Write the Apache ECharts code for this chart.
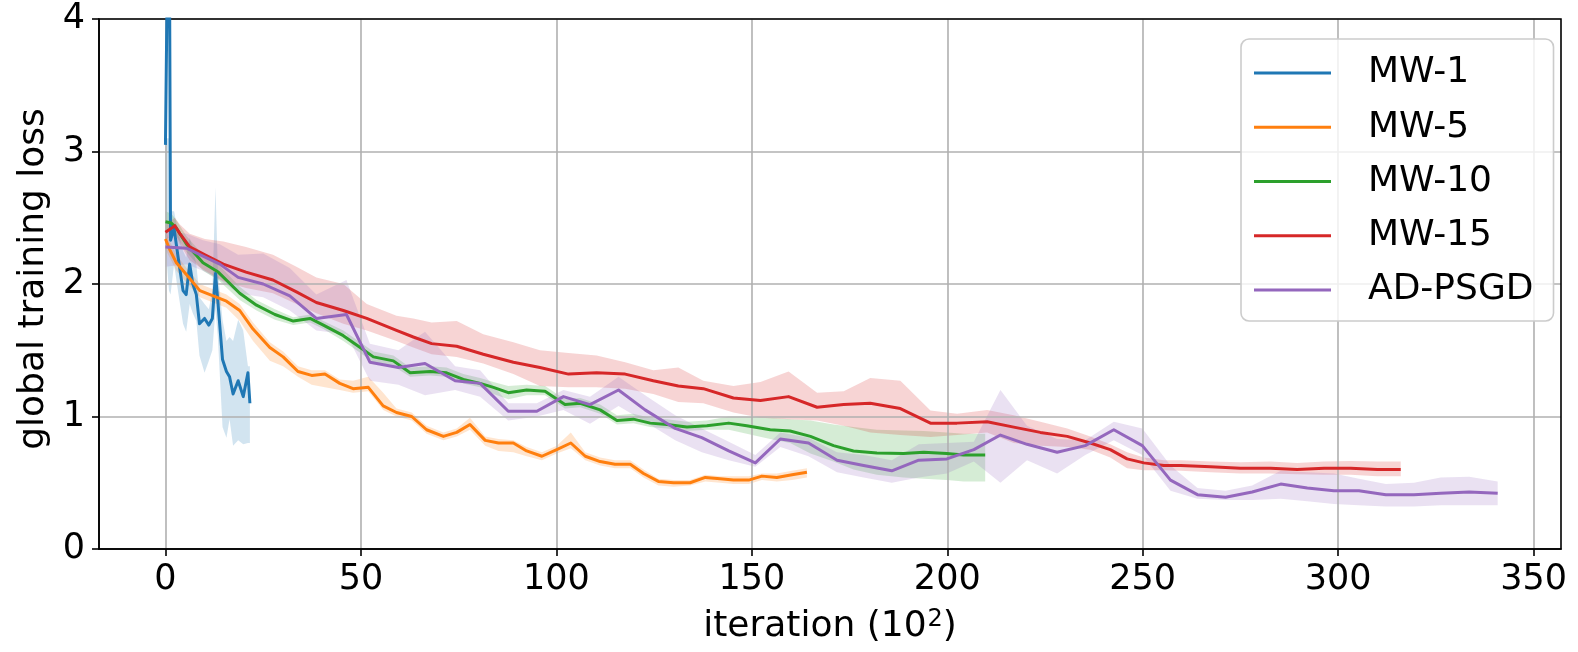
<!DOCTYPE html>
<html>
<head>
<meta charset="utf-8">
<title>global training loss</title>
<script src="https://cdn.jsdelivr.net/npm/echarts@6/dist/echarts.min.js"></script>
<style>
  html, body { margin: 0; padding: 0; background: #fff; }
  #chart { width: 1578px; height: 652px; }
</style>
</head>
<body>
<div id="chart"></div>
<script>
// values (x in 10^2 iterations)
const blueX  = [0, 0.9, 1.3, 2.2, 3.2, 4.5, 5.3, 6.2, 7.0, 7.9, 8.7, 10.0, 11.1, 12.0, 12.8, 13.4, 14.6, 15.6, 16.4, 17.3, 18.6, 19.9, 21.1, 21.6];
const blueY  = [3.05, 5.5, 2.33, 2.42, 2.21, 1.95, 1.92, 2.15, 2.00, 1.92, 1.70, 1.74, 1.69, 1.74, 2.08, 1.87, 1.43, 1.34, 1.30, 1.17, 1.27, 1.15, 1.33, 1.10];
const blueLo = [2.30, 1.95, 1.92, 2.15, 1.95, 1.70, 1.64, 1.85, 1.78, 1.72, 1.46, 1.33, 1.42, 1.50, 1.81, 1.60, 0.92, 0.84, 0.98, 0.78, 0.82, 0.79, 0.80, 0.80];
const blueHi = [3.10, 3.10, 2.55, 2.55, 2.40, 2.25, 2.20, 2.35, 2.27, 2.15, 1.90, 1.85, 1.81, 1.95, 2.73, 2.10, 1.73, 1.57, 1.60, 1.57, 1.73, 1.65, 1.38, 1.38];

const orangeX  = [0, 1.1, 2.8, 5.4, 8.8, 12.2, 15.6, 19.0, 22.4, 26.7, 30.1, 33.9, 37.4, 40.8, 44.6, 48.0, 51.9, 55.7, 59.1, 63.0, 66.8, 71.1, 74.5, 77.9, 81.8, 85.2, 89.0, 92.4, 96.3, 100.1, 103.7, 107.4, 111.2, 115.0, 118.9, 122.3, 126.1, 130.0, 134.2, 138.1, 141.9, 145.3, 149.2, 152.6, 156.4, 160.3, 164.1];
const orangeY  = [2.34, 2.26, 2.16, 2.07, 1.95, 1.91, 1.87, 1.80, 1.66, 1.52, 1.45, 1.34, 1.31, 1.32, 1.25, 1.21, 1.22, 1.08, 1.03, 1.00, 0.90, 0.85, 0.88, 0.94, 0.82, 0.80, 0.80, 0.74, 0.70, 0.75, 0.80, 0.70, 0.66, 0.64, 0.64, 0.57, 0.51, 0.50, 0.50, 0.54, 0.53, 0.52, 0.52, 0.55, 0.54, 0.56, 0.58];
const orangeLo = [2.26, 2.20, 2.10, 2.01, 1.90, 1.86, 1.82, 1.72, 1.57, 1.42, 1.38, 1.30, 1.24, 1.22, 1.20, 1.18, 1.19, 1.05, 1.00, 0.97, 0.87, 0.82, 0.85, 0.90, 0.78, 0.74, 0.73, 0.70, 0.67, 0.72, 0.76, 0.67, 0.63, 0.61, 0.61, 0.54, 0.48, 0.47, 0.48, 0.51, 0.50, 0.49, 0.49, 0.52, 0.51, 0.52, 0.54];
const orangeHi = [2.40, 2.32, 2.22, 2.12, 2.00, 1.96, 1.92, 1.85, 1.71, 1.56, 1.49, 1.38, 1.35, 1.35, 1.28, 1.27, 1.30, 1.18, 1.06, 1.03, 0.93, 0.88, 0.91, 0.99, 0.85, 0.83, 0.82, 0.77, 0.73, 0.78, 0.88, 0.73, 0.69, 0.67, 0.67, 0.60, 0.53, 0.52, 0.52, 0.56, 0.55, 0.55, 0.55, 0.57, 0.57, 0.59, 0.61];

const greenX  = [0, 1.5, 2.6, 5.4, 9.6, 13.5, 19.0, 23.3, 28.0, 32.7, 37.0, 40.4, 45.5, 48.9, 53.2, 58.3, 62.6, 67.7, 71.9, 76.2, 80.5, 83.9, 87.7, 92.4, 97.1, 102.2, 106.1, 111.2, 115.5, 119.7, 124.0, 128.3, 133.4, 138.5, 144.1, 148.7, 154.7, 159.8, 165.0, 170.9, 176.0, 182.0, 188.8, 194.0, 199.9, 204.2, 209.7];
const greenY  = [2.47, 2.46, 2.43, 2.30, 2.16, 2.09, 1.93, 1.84, 1.77, 1.72, 1.74, 1.69, 1.61, 1.54, 1.45, 1.42, 1.33, 1.34, 1.33, 1.28, 1.25, 1.22, 1.18, 1.20, 1.19, 1.09, 1.10, 1.05, 0.97, 0.98, 0.95, 0.94, 0.92, 0.93, 0.95, 0.93, 0.90, 0.89, 0.85, 0.78, 0.74, 0.725, 0.72, 0.73, 0.72, 0.71, 0.71];
const greenLo = [2.40, 2.40, 2.37, 2.24, 2.10, 2.03, 1.88, 1.80, 1.73, 1.69, 1.71, 1.66, 1.57, 1.50, 1.41, 1.38, 1.30, 1.31, 1.30, 1.25, 1.22, 1.17, 1.13, 1.16, 1.16, 1.06, 1.07, 1.02, 0.94, 0.95, 0.92, 0.91, 0.89, 0.90, 0.90, 0.87, 0.83, 0.80, 0.72, 0.66, 0.60, 0.56, 0.54, 0.53, 0.52, 0.51, 0.51];
const greenHi = [2.55, 2.53, 2.49, 2.36, 2.22, 2.15, 1.98, 1.88, 1.81, 1.75, 1.77, 1.72, 1.65, 1.58, 1.49, 1.46, 1.37, 1.38, 1.37, 1.32, 1.29, 1.26, 1.23, 1.24, 1.23, 1.13, 1.14, 1.09, 1.01, 1.02, 0.99, 0.98, 0.96, 0.97, 1.00, 1.00, 0.99, 0.98, 0.97, 0.94, 0.92, 0.90, 0.895, 0.89, 0.88, 0.87, 0.87];

const redX  = [0, 1.5, 2.4, 3.7, 6.2, 10.1, 14.8, 20.6, 27.5, 33.5, 38.6, 45.5, 51.5, 59.1, 63.4, 68.1, 74.5, 81.3, 89.0, 95.8, 103.1, 110.3, 117.6, 124.8, 131.2, 137.6, 145.3, 152.2, 159.4, 166.7, 173.5, 180.3, 188.0, 195.7, 202.5, 210.2, 217.0, 223.8, 230.7, 236.6, 241.7, 246.0, 250.3, 255.4, 259.7, 267.4, 275.0, 282.7, 289.5, 296.4, 303.2, 310.0, 316.0];
const redY  = [2.39, 2.42, 2.44, 2.38, 2.28, 2.22, 2.15, 2.09, 2.03, 1.94, 1.86, 1.80, 1.74, 1.65, 1.60, 1.55, 1.53, 1.47, 1.41, 1.37, 1.32, 1.33, 1.32, 1.27, 1.23, 1.21, 1.14, 1.12, 1.15, 1.07, 1.09, 1.10, 1.06, 0.95, 0.95, 0.96, 0.92, 0.88, 0.85, 0.80, 0.75, 0.68, 0.65, 0.63, 0.63, 0.62, 0.61, 0.61, 0.60, 0.61, 0.61, 0.60, 0.60];
const redLo = [2.33, 2.36, 2.38, 2.30, 2.18, 2.10, 2.02, 1.97, 1.93, 1.85, 1.78, 1.70, 1.65, 1.57, 1.52, 1.47, 1.45, 1.40, 1.32, 1.23, 1.22, 1.22, 1.21, 1.17, 1.11, 1.10, 1.03, 0.99, 0.98, 0.97, 0.93, 0.88, 0.86, 0.845, 0.86, 0.88, 0.80, 0.78, 0.77, 0.75, 0.69, 0.61, 0.595, 0.595, 0.59, 0.58, 0.57, 0.57, 0.565, 0.56, 0.56, 0.55, 0.55];
const redHi = [2.45, 2.48, 2.50, 2.45, 2.38, 2.34, 2.32, 2.28, 2.22, 2.13, 2.05, 2.00, 1.85, 1.76, 1.74, 1.71, 1.72, 1.62, 1.56, 1.50, 1.48, 1.46, 1.41, 1.35, 1.37, 1.27, 1.23, 1.26, 1.34, 1.18, 1.19, 1.29, 1.27, 1.045, 1.02, 1.05, 1.01, 0.96, 0.91, 0.85, 0.79, 0.73, 0.69, 0.67, 0.67, 0.66, 0.655, 0.66, 0.65, 0.66, 0.665, 0.66, 0.66];

const purpleX  = [0, 5.4, 9.6, 13.9, 18.6, 25.0, 31.8, 38.6, 46.3, 52.3, 59.6, 66.4, 74.1, 80.5, 87.7, 95.0, 101.8, 108.6, 115.9, 122.7, 130.4, 137.2, 144.1, 150.9, 157.3, 164.5, 171.8, 178.6, 185.8, 192.7, 199.9, 206.8, 213.6, 220.4, 228.1, 235.3, 242.6, 249.9, 257.1, 264.0, 271.2, 278.0, 285.3, 292.1, 298.9, 305.3, 312.2, 319.4, 326.2, 333.5, 340.8];
const purpleY  = [2.28, 2.27, 2.21, 2.15, 2.05, 2.00, 1.91, 1.74, 1.77, 1.41, 1.37, 1.40, 1.27, 1.25, 1.04, 1.04, 1.15, 1.09, 1.20, 1.05, 0.91, 0.84, 0.74, 0.65, 0.83, 0.80, 0.67, 0.63, 0.59, 0.67, 0.68, 0.75, 0.86, 0.79, 0.73, 0.78, 0.90, 0.78, 0.52, 0.41, 0.39, 0.43, 0.49, 0.46, 0.44, 0.44, 0.41, 0.41, 0.42, 0.43, 0.42];
const purpleLo = [2.13, 2.15, 2.10, 2.03, 1.93, 1.90, 1.80, 1.65, 1.62, 1.27, 1.24, 1.16, 1.20, 1.15, 0.97, 1.00, 1.05, 0.945, 1.08, 0.96, 0.82, 0.73, 0.67, 0.62, 0.77, 0.70, 0.58, 0.54, 0.50, 0.54, 0.57, 0.66, 0.50, 0.67, 0.57, 0.71, 0.82, 0.71, 0.44, 0.38, 0.37, 0.37, 0.38, 0.36, 0.34, 0.33, 0.32, 0.32, 0.33, 0.33, 0.33];
const purpleHi = [2.40, 2.38, 2.33, 2.30, 2.22, 2.23, 2.12, 1.92, 2.03, 1.55, 1.50, 1.64, 1.38, 1.35, 1.10, 1.10, 1.20, 1.15, 1.30, 1.16, 1.01, 0.91, 0.81, 0.71, 0.88, 0.84, 0.73, 0.71, 0.67, 0.79, 0.80, 0.81, 1.20, 0.93, 0.83, 0.82, 0.96, 0.91, 0.63, 0.46, 0.44, 0.48, 0.59, 0.58, 0.57, 0.53, 0.49, 0.50, 0.54, 0.545, 0.51];

const xTicks = [0, 50, 100, 150, 200, 250, 300, 350];

const runs = [
  { name: 'MW-1',    color: '#1f77b4', x: blueX,   y: blueY,   lo: blueLo,   hi: blueHi },
  { name: 'MW-5',    color: '#ff7f0e', x: orangeX, y: orangeY, lo: orangeLo, hi: orangeHi },
  { name: 'MW-10',   color: '#2ca02c', x: greenX,  y: greenY,  lo: greenLo,  hi: greenHi },
  { name: 'MW-15',   color: '#d62728', x: redX,    y: redY,    lo: redLo,    hi: redHi },
  { name: 'AD-PSGD', color: '#9467bd', x: purpleX, y: purpleY, lo: purpleLo, hi: purpleHi }
];

const FONT = 'DejaVu Sans';

// shaded min/max band, drawn as one polygon through the axis scales
function bandSeries(run) {
  return {
    type: 'custom',
    silent: true,
    z: -1,
    clip: true,
    data: run.x.map((v, i) => [v, run.lo[i], run.hi[i]]),
    encode: { x: 0, y: [1, 2] },
    renderItem: function (params, api) {
      if (params.dataIndex !== 0) return null;
      const pts = [];
      for (let i = 0; i < run.x.length; i++) pts.push(api.coord([run.x[i], run.hi[i]]));
      for (let i = run.x.length - 1; i >= 0; i--) pts.push(api.coord([run.x[i], run.lo[i]]));
      return {
        type: 'polygon',
        shape: { points: pts },
        style: { fill: run.color, opacity: 0.2 }
      };
    }
  };
}

function lineSeries(run) {
  return {
    type: 'line',
    name: run.name,
    data: run.x.map((v, i) => [v, run.y[i]]),
    symbol: 'none',
    showSymbol: false,
    clip: true,
    z: 3,
    lineStyle: { color: run.color, width: 3, join: 'round' },
    itemStyle: { color: run.color },
    emphasis: { disabled: true }
  };
}

const axisLine = { show: true, onZero: false, lineStyle: { color: '#000', width: 1.6 } };
const tick = { show: true, length: 7, lineStyle: { color: '#000', width: 1.6 } };
const gridLine = { show: true, lineStyle: { color: '#b0b0b0', width: 1.6 } };

const chart = echarts.init(document.getElementById('chart'));
chart.setOption({
  animation: false,
  backgroundColor: '#fff',
  grid: {
    show: true, z: 1,
    left: 99, right: 17, top: 19, bottom: 101,
    borderColor: '#000', borderWidth: 1.6,
    backgroundColor: 'rgba(0,0,0,0)'
  },
  legend: {
    data: runs.map(r => r.name),
    orient: 'vertical',
    left: 1241, top: 39,
    padding: [16, 20, 13, 13],
    itemWidth: 77, itemHeight: 3,
    itemGap: 18.25,
    icon: 'rect',
    backgroundColor: 'rgba(255,255,255,0.8)',
    borderColor: '#cccccc', borderWidth: 1.6, borderRadius: 8,
    textStyle: { fontFamily: FONT, fontSize: 36, color: '#000', lineHeight: 36, padding: [0, 0, 0, 32] }
  },
  xAxis: {
    type: 'value',
    min: -17, max: 357,
    splitNumber: 7, minInterval: 50, maxInterval: 50,
    name: 'iteration (10{sup|2})',
    nameLocation: 'middle', nameGap: 58,
    nameTextStyle: {
      fontFamily: FONT, fontSize: 36, color: '#000', lineHeight: 40,
      rich: { sup: { fontFamily: FONT, fontSize: 24, lineHeight: 24, verticalAlign: 'middle',
        padding: [0, 0, 14, 1], color: '#000' } }
    },
    axisLine: axisLine,
    axisTick: Object.assign({ customValues: xTicks }, tick),
    axisLabel: { customValues: xTicks, margin: 13, fontFamily: FONT, fontSize: 35, color: '#000' },
    splitLine: gridLine
  },
  yAxis: {
    type: 'value',
    min: 0, max: 4, interval: 1,
    name: 'global training loss',
    nameLocation: 'middle', nameGap: 47, nameRotate: 90,
    nameTextStyle: { fontFamily: FONT, fontSize: 36, color: '#000', padding: [0, 0, 0, 10] },
    axisLine: axisLine,
    axisTick: tick,
    axisLabel: { margin: 14, fontFamily: FONT, fontSize: 35, color: '#000' },
    splitLine: gridLine
  },
  series: runs.map(bandSeries).concat(runs.map(lineSeries))
});
</script>
</body>
</html>
